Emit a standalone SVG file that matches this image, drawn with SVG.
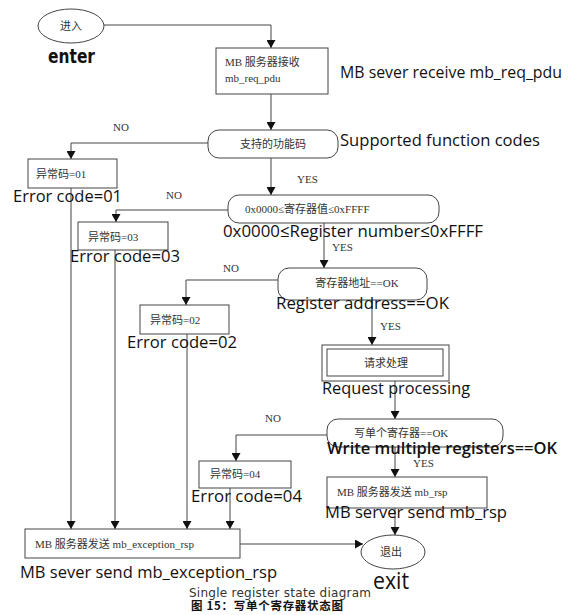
<svg xmlns="http://www.w3.org/2000/svg" width="574" height="615" viewBox="0 0 574 615">
<style>
.shape{fill:#fff;stroke:#444;stroke-width:1}
.conn{fill:none;stroke:#444;stroke-width:1}
.zh{font-family:"Liberation Serif","Noto Sans CJK SC",serif;font-size:11px;fill:#333}
.en{font-family:"Open Sans","Noto Sans",sans-serif;font-size:17px;fill:#111}
.lbl{font-family:"Liberation Serif",serif;font-size:11px;fill:#333}
</style>
<defs>
<marker id="arr" markerWidth="9" markerHeight="9" refX="8" refY="4.5" orient="auto" markerUnits="userSpaceOnUse">
<path d="M0,0 L8,4.5 L0,9 Z" fill="#111"/>
</marker>
</defs>
<rect width="574" height="615" fill="#fff"/>
<g id="connectors">
<path class="conn" marker-end="url(#arr)" d="M104,25 H271 V48"/>
<path class="conn" marker-end="url(#arr)" d="M271,94 V130"/>
<path class="conn" marker-end="url(#arr)" d="M208,143 H71 V159"/>
<path class="conn" marker-end="url(#arr)" d="M271,158 V195"/>
<path class="conn" marker-end="url(#arr)" d="M228,210 H116 V222"/>
<path class="conn" marker-end="url(#arr)" d="M324,223 V268"/>
<path class="conn" marker-end="url(#arr)" d="M278,280 H186 V305"/>
<path class="conn" marker-end="url(#arr)" d="M372,300 V345"/>
<path class="conn" marker-end="url(#arr)" d="M395,381 V419"/>
<path class="conn" marker-end="url(#arr)" d="M327,435 H236 V461"/>
<path class="conn" marker-end="url(#arr)" d="M395,447 V477"/>
<path class="conn" marker-end="url(#arr)" d="M395,508 V535"/>
<path class="conn" marker-end="url(#arr)" d="M71,188 V529"/>
<path class="conn" marker-end="url(#arr)" d="M115,250 V529"/>
<path class="conn" marker-end="url(#arr)" d="M187,334 V529"/>
<path class="conn" marker-end="url(#arr)" d="M230,488 V529"/>
<path class="conn" marker-end="url(#arr)" d="M240,544 H363"/>
<text class="lbl" x="113" y="131">NO</text>
<text class="lbl" x="297" y="183">YES</text>
<text class="lbl" x="166" y="199">NO</text>
<text class="lbl" x="332" y="251">YES</text>
<text class="lbl" x="223" y="272">NO</text>
<text class="lbl" x="380" y="330">YES</text>
<text class="lbl" x="265" y="422">NO</text>
<text class="lbl" x="413" y="467">YES</text>
</g>
<g id="enter">
<ellipse class="shape" cx="71" cy="26" rx="33" ry="17"/>
<text class="zh" x="71" y="30" text-anchor="middle">进入</text>
<text x="48" y="63" font-family="'DejaVu Sans',sans-serif" font-size="19" font-weight="bold" fill="#111" textLength="47" lengthAdjust="spacingAndGlyphs">enter</text>
</g>
<g id="recv">
<rect class="shape" x="216" y="48" width="112" height="46"/>
<text class="zh" x="225" y="66">MB  服务器接收</text>
<text class="zh" x="225" y="82">mb_req_pdu</text>
<text class="en" x="340" y="78" textLength="222" lengthAdjust="spacingAndGlyphs">MB sever receive mb_req_pdu</text>
</g>
<g id="d1">
<rect class="shape" x="208" y="130" width="130" height="28" rx="11"/>
<text class="zh" x="273" y="148" text-anchor="middle">支持的功能码</text>
<text class="en" x="340" y="146" textLength="200" lengthAdjust="spacingAndGlyphs">Supported function codes</text>
</g>
<g id="e01">
<rect class="shape" x="28" y="159" width="89" height="29"/>
<text class="zh" x="36" y="178">异常码=01</text>
<text class="en" x="13" y="202" textLength="109" lengthAdjust="spacingAndGlyphs">Error code=01</text>
</g>
<g id="d2">
<rect class="shape" x="228" y="195" width="211" height="28" rx="11"/>
<text class="zh" x="245" y="213">0x0000≤寄存器值≤0xFFFF</text>
<text class="en" x="223" y="237" textLength="260" lengthAdjust="spacingAndGlyphs">0x0000≤Register number≤0xFFFF</text>
</g>
<g id="e03">
<rect class="shape" x="78" y="222" width="90" height="28"/>
<text class="zh" x="88" y="241">异常码=03</text>
<text class="en" x="70" y="262" textLength="110" lengthAdjust="spacingAndGlyphs">Error code=03</text>
</g>
<g id="d3">
<rect class="shape" x="278" y="268" width="149" height="32" rx="11"/>
<text class="zh" x="357" y="287" text-anchor="middle">寄存器地址==OK</text>
<text class="en" x="276" y="309" textLength="173" lengthAdjust="spacingAndGlyphs">Register address==OK</text>
</g>
<g id="e02">
<rect class="shape" x="140" y="305" width="89" height="29"/>
<text class="zh" x="150" y="324">异常码=02</text>
<text class="en" x="127" y="348" textLength="110" lengthAdjust="spacingAndGlyphs">Error code=02</text>
</g>
<g id="req">
<rect class="shape" x="322" y="345" width="127" height="36"/>
<rect class="shape" x="327" y="349" width="116" height="27"/>
<text class="zh" x="386" y="367" text-anchor="middle">请求处理</text>
<text class="en" x="322" y="394" textLength="148" lengthAdjust="spacingAndGlyphs">Request processing</text>
</g>
<g id="d4">
<rect class="shape" x="327" y="419" width="176" height="28" rx="11"/>
<text class="zh" x="354" y="437">写单个寄存器==OK</text>
<text class="en" x="327" y="454" textLength="230" lengthAdjust="spacingAndGlyphs" font-weight="600">Write multiple registers==OK</text>
</g>
<g id="e04">
<rect class="shape" x="199" y="461" width="92" height="27"/>
<text class="zh" x="210" y="478">异常码=04</text>
<text class="en" x="191" y="502" textLength="111" lengthAdjust="spacingAndGlyphs">Error code=04</text>
</g>
<g id="rsp">
<rect class="shape" x="327" y="477" width="160" height="31"/>
<text class="zh" x="337" y="496">MB 服务器发送 mb_rsp</text>
<text class="en" x="325" y="518" textLength="182" lengthAdjust="spacingAndGlyphs">MB server send mb_rsp</text>
</g>
<g id="exc">
<rect class="shape" x="25" y="529" width="215" height="29"/>
<text class="zh" x="35" y="548">MB 服务器发送 mb_exception_rsp</text>
<text class="en" x="20" y="578" textLength="257" lengthAdjust="spacingAndGlyphs">MB sever send mb_exception_rsp</text>
</g>
<g id="exit">
<ellipse class="shape" cx="393" cy="552" rx="32" ry="17"/>
<text class="zh" x="391" y="556" text-anchor="middle">退出</text>
<text x="373" y="589" font-family="'Open Sans',sans-serif" font-size="24" fill="#111" textLength="36" lengthAdjust="spacingAndGlyphs">exit</text>
</g>
<g id="caption">
<text x="189" y="597" font-family="'DejaVu Sans',sans-serif" font-size="12" fill="#333" textLength="182" lengthAdjust="spacing">Single register state diagram</text>
<text x="191" y="610" font-family="'Noto Sans CJK SC',sans-serif" font-size="11.5" font-weight="bold" fill="#111" textLength="152" lengthAdjust="spacing">图 15：写单个寄存器状态图</text>
</g>
</svg>
